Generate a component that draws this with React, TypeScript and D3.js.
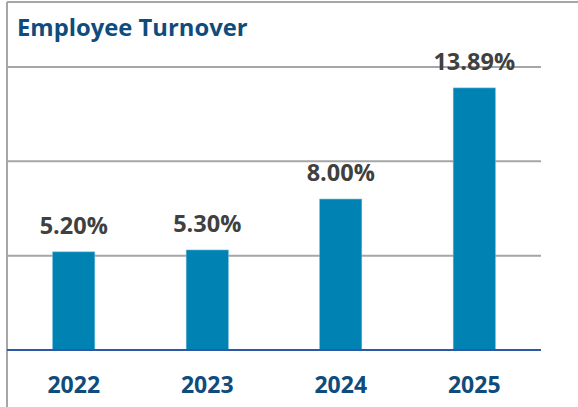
import { useEffect, useRef } from "react";
import * as d3 from "d3";

const years = ["2022", "2023", "2024", "2025"];
const turnover = [5.2, 5.3, 8.0, 13.89];
const gridTicks = [5, 10, 15];

const EmployeeTurnover = () => {
  const svgRef = useRef<SVGSVGElement>(null);

  useEffect(() => {
    if (!svgRef.current) return;
    d3.select(svgRef.current).selectAll("*").remove();

    const width = 578;
    const height = 407;
    const font = "'Open Sans', sans-serif";

    const svg = d3.select(svgRef.current)
      .attr("width", width)
      .attr("height", height)
      .attr("viewBox", `0 0 ${width} ${height}`)
      .style("display", "block");

    // frame lines (top + left)
    svg.append("line")
      .attr("x1", 7).attr("x2", width).attr("y1", 2).attr("y2", 2)
      .attr("stroke", "#a6a6a6").attr("stroke-width", 2);
    svg.append("line")
      .attr("x1", 7).attr("x2", 7).attr("y1", 2).attr("y2", height)
      .attr("stroke", "#a6a6a6").attr("stroke-width", 2);

    svg.append("text")
      .attr("x", 17)
      .attr("y", 36)
      .style("font-family", font)
      .style("font-size", "23.8px")
      .style("font-weight", "700")
      .style("fill", "#0f4c7c")
      .text("Employee Turnover");

    const x = d3.scaleBand()
      .domain(years)
      .range([7, 541])
      .paddingInner(0.685)
      .paddingOuter(0.3425);

    const y = d3.scaleLinear()
      .domain([0, 15])
      .range([350, 67]);

    // gridlines
    svg.selectAll(".grid")
      .data(gridTicks)
      .join("line")
      .attr("class", "grid")
      .attr("x1", 7).attr("x2", 541)
      .attr("y1", d => y(d)).attr("y2", d => y(d))
      .attr("stroke", "#a6a6a6")
      .attr("stroke-width", 2);

    // bars
    svg.selectAll(".bar")
      .data(turnover)
      .join("rect")
      .attr("class", "bar")
      .attr("x", (_, i) => x(years[i])!)
      .attr("y", d => y(d))
      .attr("width", x.bandwidth())
      .attr("height", d => y(0) - y(d))
      .attr("fill", "#0082b3")
      .attr("stroke", "#5fb3d6")
      .attr("stroke-width", 0.6);

    // baseline
    svg.append("line")
      .attr("x1", 7).attr("x2", 541)
      .attr("y1", y(0)).attr("y2", y(0))
      .attr("stroke", "#2e58a6")
      .attr("stroke-width", 2);

    // value labels
    svg.selectAll(".val")
      .data(turnover)
      .join("text")
      .attr("class", "val")
      .attr("x", (_, i) => x(years[i])! + x.bandwidth() / 2)
      .attr("y", d => y(d) - 18)
      .attr("text-anchor", "middle")
      .style("font-family", font)
      .style("font-size", "23.5px")
      .style("font-weight", "700")
      .style("fill", "#404040")
      .text(d => `${d.toFixed(2)}%`);

    // year labels
    svg.selectAll(".year")
      .data(years)
      .join("text")
      .attr("class", "year")
      .attr("x", d => x(d)! + x.bandwidth() / 2)
      .attr("y", 392.5)
      .attr("text-anchor", "middle")
      .style("font-family", font)
      .style("font-size", "23px")
      .style("font-weight", "700")
      .style("fill", "#0f4c7c")
      .text(d => d);
  }, []);

  return (
    <div style={{ position: "absolute", left: 0, top: 0, background: "#fff" }}>
      <svg ref={svgRef}></svg>
    </div>
  );
};

export default function App() {
  return <EmployeeTurnover />;
}
